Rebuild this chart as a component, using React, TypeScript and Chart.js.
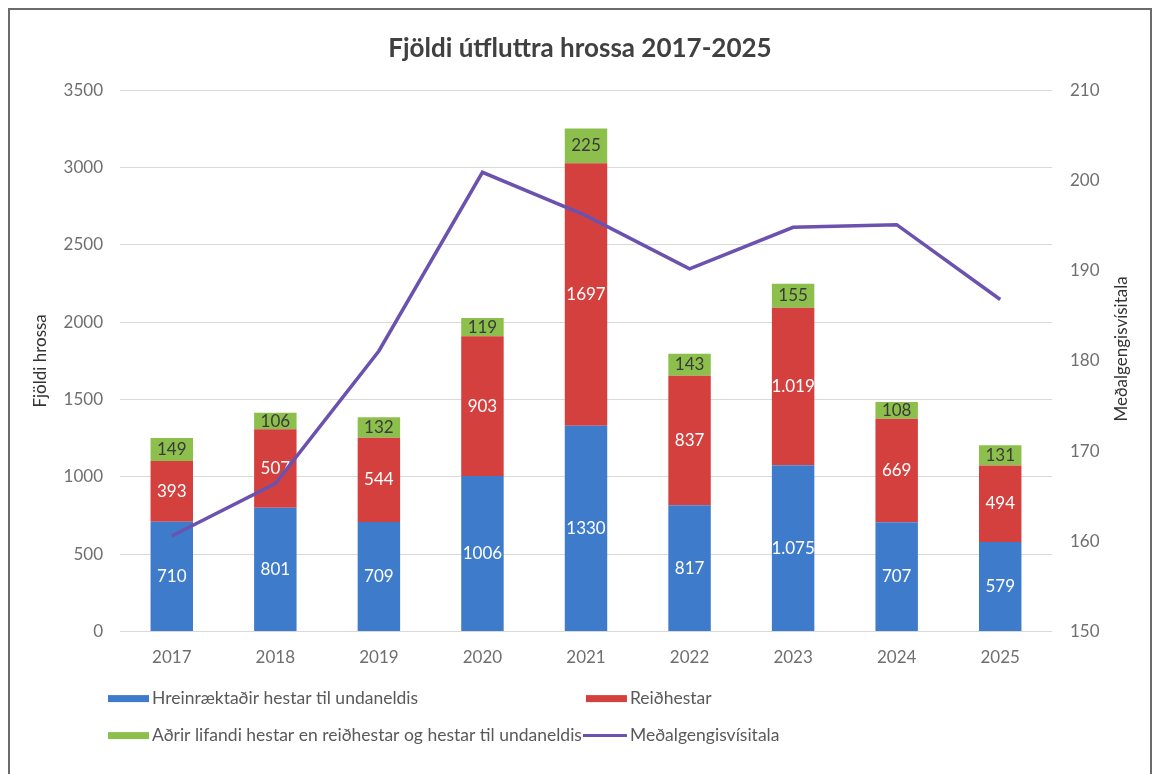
import React, { useEffect, useRef } from "react";
import { Chart, registerables } from "chart.js";

Chart.register(...registerables);

const categories = ["2017", "2018", "2019", "2020", "2021", "2022", "2023", "2024", "2025"];
const breedingHorses = [710, 801, 709, 1006, 1330, 817, 1075, 707, 579];
const ridingHorses = [393, 507, 544, 903, 1697, 837, 1019, 669, 494];
const otherHorses = [149, 106, 132, 119, 225, 143, 155, 108, 131];
const exchangeIndex = [160.6, 166.4, 181.1, 200.9, 196.1, 190.2, 194.8, 195.1, 186.8];
const dotSeparatedYears = ["2023"];

const seriesNames = [
  "Hreinræktaðir hestar til undaneldis",
  "Reiðhestar",
  "Aðrir lifandi hestar en reiðhestar og hestar til undaneldis",
  "Meðalgengisvísitala",
];
const rightAxisTitle = "Meðalgengisvísitala";

const BLUE = "#3F7BCB";
const RED = "#D4403E";
const GREEN = "#8CBF4C";
const PURPLE = "#6B52AE";
const FONT = "Lato";
const TICK_COLOR = "#6f6f6f";

function formatValue(v: number, year: string) {
  if (dotSeparatedYears.includes(year) && v >= 1000) {
    const s = String(v);
    return s.slice(0, s.length - 3) + "." + s.slice(s.length - 3);
  }
  return String(v);
}

const barLabelPlugin = {
  id: "barLabels",
  afterDatasetDraw(chart: any, args: any) {
    const ds = chart.data.datasets[args.index];
    if (ds.type !== "bar") return;
    const meta = args.meta;
    const ctx = chart.ctx;
    ctx.save();
    ctx.font = `17px ${FONT}`;
    ctx.textAlign = "center";
    ctx.textBaseline = "middle";
    ctx.fillStyle = ds.labelColor;
    meta.data.forEach((el: any, i: number) => {
      const v = ds.data[i];
      const yMid = (el.y + el.base) / 2;
      ctx.fillText(formatValue(v, categories[i]), el.x, yMid);
    });
    ctx.restore();
  },
};

const rightTitlePlugin = {
  id: "rightTitle",
  afterDraw(chart: any) {
    const ctx = chart.ctx;
    const scale = chart.scales.y1;
    const area = chart.chartArea;
    ctx.save();
    ctx.font = `17px ${FONT}`;
    ctx.fillStyle = "#333333";
    ctx.textAlign = "center";
    ctx.textBaseline = "middle";
    ctx.translate(scale.right - 28, (area.top + area.bottom) / 2 - 12);
    ctx.rotate(-Math.PI / 2);
    ctx.fillText(rightAxisTitle, 0, 0);
    ctx.restore();
  },
};

const customLegendPlugin = {
  id: "customLegend",
  afterDraw(chart: any) {
    const ctx = chart.ctx;
    const area = chart.chartArea;
    const ds = chart.data.datasets;
    ctx.save();
    ctx.font = `17.5px ${FONT}`;
    ctx.textBaseline = "middle";
    ctx.textAlign = "left";
    const boxW = 41;
    const gap = 3;
    const col1X = area.left - 12;
    const col1Names = [seriesNames[0], seriesNames[2]];
    const maxW = Math.max(...col1Names.map((n) => ctx.measureText(n).width));
    const col2X = col1X + boxW + gap + maxW + 4;
    const row1Y = area.bottom + 67;
    const row2Y = area.bottom + 104;
    const items = [
      { x: col1X, y: row1Y, ds: ds[0], name: seriesNames[0], line: false },
      { x: col2X, y: row1Y, ds: ds[1], name: seriesNames[1], line: false },
      { x: col1X, y: row2Y, ds: ds[2], name: seriesNames[2], line: false },
      { x: col2X - 3, y: row2Y, ds: ds[3], name: seriesNames[3], line: true },
    ];
    items.forEach((it) => {
      if (it.line) {
        ctx.strokeStyle = it.ds.borderColor;
        ctx.lineWidth = 3;
        ctx.beginPath();
        ctx.moveTo(it.x, it.y);
        ctx.lineTo(it.x + boxW + 3, it.y);
        ctx.stroke();
        ctx.fillStyle = "#595959";
        ctx.fillText(it.name, it.x + boxW + 3 + gap, it.y);
      } else {
        ctx.fillStyle = it.ds.backgroundColor;
        ctx.fillRect(it.x, it.y - 3.5, boxW, 7);
        ctx.fillStyle = "#595959";
        ctx.fillText(it.name, it.x + boxW + gap, it.y);
      }
    });
    ctx.restore();
  },
};

export default function App() {
  const canvasRef = useRef<HTMLCanvasElement | null>(null);

  useEffect(() => {
    if (!canvasRef.current) return;
    const tickFont = { family: FONT, size: 17 };
    const chart = new Chart(canvasRef.current, {
      type: "bar",
      data: {
        labels: categories,
        datasets: [
          {
            type: "bar",
            label: seriesNames[0],
            data: breedingHorses,
            backgroundColor: BLUE,
            yAxisID: "y",
            stack: "s",
            order: 1,
            barPercentage: 0.41,
            categoryPercentage: 1,
            labelColor: "#ffffff",
          } as any,
          {
            type: "bar",
            label: seriesNames[1],
            data: ridingHorses,
            backgroundColor: RED,
            yAxisID: "y",
            stack: "s",
            order: 1,
            barPercentage: 0.41,
            categoryPercentage: 1,
            labelColor: "#ffffff",
          } as any,
          {
            type: "bar",
            label: seriesNames[2],
            data: otherHorses,
            backgroundColor: GREEN,
            yAxisID: "y",
            stack: "s",
            order: 1,
            barPercentage: 0.41,
            categoryPercentage: 1,
            labelColor: "#3a3a3a",
          } as any,
          {
            type: "line",
            label: seriesNames[3],
            data: exchangeIndex,
            borderColor: PURPLE,
            backgroundColor: PURPLE,
            borderWidth: 3.5,
            pointRadius: 0,
            tension: 0,
            yAxisID: "y1",
            order: 0,
          } as any,
        ],
      },
      options: {
        responsive: true,
        maintainAspectRatio: false,
        animation: false,
        layout: { padding: { left: 0, right: 0, top: 0, bottom: 90 } },
        plugins: {
          legend: { display: false },
          tooltip: { enabled: false },
          title: {
            display: true,
            text: "Fjöldi útfluttra hrossa 2017-2025",
            color: "#404040",
            font: { family: FONT, size: 26, weight: "bold" },
            padding: { top: 23, bottom: 26 },
          },
        },
        scales: {
          x: {
            stacked: true,
            grid: { display: false, drawTicks: false },
            border: { display: false },
            ticks: { color: TICK_COLOR, font: tickFont, padding: 16 },
          },
          y: {
            stacked: true,
            position: "left",
            min: 0,
            max: 3500,
            ticks: {
              stepSize: 500,
              color: TICK_COLOR,
              font: tickFont,
              padding: 17,
              callback: (v: any) => String(v),
            },
            grid: { color: "#d9d9d9", lineWidth: 1, drawTicks: false },
            border: { display: false },
            title: {
              display: true,
              text: "Fjöldi hrossa",
              color: "#333333",
              font: { family: FONT, size: 17 },
              padding: { top: 20, bottom: 0 },
            },
            afterFit: (s: any) => {
              s.width = 110;
            },
          },
          y1: {
            position: "right",
            min: 150,
            max: 210,
            ticks: {
              stepSize: 10,
              color: TICK_COLOR,
              font: tickFont,
              padding: 18,
              callback: (v: any) => String(v),
            },
            grid: { display: false, drawTicks: false },
            border: { display: false },
            title: { display: false },
            afterFit: (s: any) => {
              s.width = 98;
            },
          },
        } as any,
      },
      plugins: [barLabelPlugin, customLegendPlugin, rightTitlePlugin],
    });
    return () => chart.destroy();
  }, []);

  return (
    <div
      style={{
        width: 1140,
        height: 780,
        border: "2px solid #6b6b6b",
        background: "#ffffff",
        position: "relative",
      }}
    >
      <div style={{ position: "relative", width: 1140, height: 764 }}>
        <canvas ref={canvasRef} />
      </div>
    </div>
  );
}
